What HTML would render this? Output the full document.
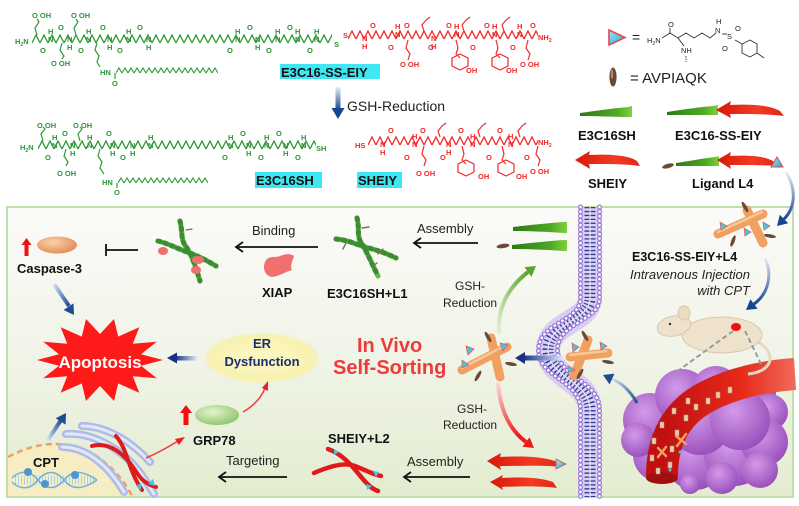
<!DOCTYPE html>
<html><head><meta charset="utf-8">
<style>
html,body{margin:0;padding:0;background:#fff;}
svg{display:block;}
text{font-family:"Liberation Sans",Arial,sans-serif;}
.g{fill:#2a9634;font-size:7.5px;font-weight:bold;}
.r{fill:#f02828;font-size:7.5px;font-weight:bold;}
.k{fill:#222;font-size:7.5px;}
.lb{font-weight:bold;font-size:13px;fill:#111;}
.t{font-size:13px;fill:#222;}
</style></head><body>
<svg width="799" height="506" viewBox="0 0 799 506" xmlns="http://www.w3.org/2000/svg">
<defs>
<pattern id="zg" width="8" height="10" patternUnits="userSpaceOnUse"><polyline points="0,9 4,1 8,9" fill="none" stroke="#2f9a36" stroke-width="1.3"/></pattern>
<pattern id="zr" width="8" height="10" patternUnits="userSpaceOnUse"><polyline points="0,9 4,1 8,9" fill="none" stroke="#f22a2a" stroke-width="1.3"/></pattern>
<pattern id="zs" width="6" height="7" patternUnits="userSpaceOnUse"><polyline points="0,6 3,1 6,6" fill="none" stroke="#2f9a36" stroke-width="1.1"/></pattern>
<linearGradient id="panel" x1="0" y1="0" x2="0" y2="1"><stop offset="0" stop-color="#fbfbf9"/><stop offset="0.5" stop-color="#f1f4e8"/><stop offset="1" stop-color="#e3ecd0"/></linearGradient>
<linearGradient id="gDown" x1="0" y1="0" x2="0" y2="1"><stop offset="0" stop-color="#e6eef8"/><stop offset="1" stop-color="#17468e"/></linearGradient>
<linearGradient id="gRib" x1="0" y1="0" x2="1" y2="0"><stop offset="0" stop-color="#2c7a18"/><stop offset="0.7" stop-color="#4fa824"/><stop offset="1" stop-color="#7ed23a"/></linearGradient>
<linearGradient id="rRib" x1="0" y1="0" x2="1" y2="0"><stop offset="0" stop-color="#d81808"/><stop offset="0.6" stop-color="#f43a22"/><stop offset="1" stop-color="#e02818"/></linearGradient>
<radialGradient id="casp" cx="0.4" cy="0.35" r="0.7"><stop offset="0" stop-color="#fbd2ac"/><stop offset="1" stop-color="#e08a52"/></radialGradient>
<radialGradient id="grp" cx="0.4" cy="0.35" r="0.7"><stop offset="0" stop-color="#e2f4cc"/><stop offset="1" stop-color="#8cc46a"/></radialGradient>
<radialGradient id="erg" cx="0.5" cy="0.5" r="0.55"><stop offset="0" stop-color="#fbf8c8"/><stop offset="0.8" stop-color="#f8f2b0"/><stop offset="1" stop-color="#f4f0c8" stop-opacity="0.6"/></radialGradient>
<radialGradient id="tum" cx="0.4" cy="0.35" r="0.65"><stop offset="0" stop-color="#d49aea"/><stop offset="1" stop-color="#9a52bc"/></radialGradient>
<linearGradient id="vess" x1="0" y1="0" x2="1" y2="0"><stop offset="0" stop-color="#c01010"/><stop offset="0.6" stop-color="#e62a1a"/><stop offset="1" stop-color="#f06a5a"/></linearGradient>
<linearGradient id="bl1" x1="1" y1="0" x2="0" y2="0"><stop offset="0" stop-color="#dfe8f6"/><stop offset="1" stop-color="#1a2f86"/></linearGradient>
<linearGradient id="bdiag" x1="0" y1="0" x2="1" y2="1"><stop offset="0" stop-color="#cfe0f4"/><stop offset="1" stop-color="#1d4c94"/></linearGradient>
<linearGradient id="bup" x1="0" y1="1" x2="1" y2="0"><stop offset="0" stop-color="#cfe0f4"/><stop offset="1" stop-color="#1d4c94"/></linearGradient>
<linearGradient id="grA" x1="0" y1="1" x2="1" y2="0"><stop offset="0" stop-color="#e4f0d4"/><stop offset="1" stop-color="#5aa42e"/></linearGradient>
<linearGradient id="rdA" x1="0" y1="0" x2="0.5" y2="1"><stop offset="0" stop-color="#fbd6d6"/><stop offset="1" stop-color="#f01818"/></linearGradient>
<linearGradient id="tri" x1="0" y1="0" x2="1" y2="1"><stop offset="0" stop-color="#9ee8f8"/><stop offset="1" stop-color="#1aa8d8"/></linearGradient>
</defs>

<!-- ============ TOP CHEMISTRY ============ -->
<g transform="translate(32,34)"><rect width="300" height="10" fill="url(#zg)"/></g>
<g transform="translate(116,67)"><rect width="102" height="7" fill="url(#zs)"/></g>
<g stroke="#2f9a36" stroke-width="1.2" fill="none">
<polyline points="37,35 35,28 39,22 37,19"/>
<polyline points="76,35 74,28 78,22 76,19"/>
<polyline points="62,43 60,50 64,56 62,59"/>
<polyline points="97,43 95,50 99,56 97,62 100,67"/>
<line x1="115" y1="73" x2="115" y2="79"/>
</g>
<text class="g" x="15" y="44">H<tspan font-size="5" dy="2">2</tspan><tspan dy="-2">N</tspan></text>
<text class="g" x="32" y="18">O OH</text>
<text class="g" x="71" y="18">O OH</text>
<text class="g" x="51" y="66">O OH</text>
<text class="g" x="40" y="53">O</text>
<text class="g" x="48" y="34">H</text><text class="g" x="48" y="42">N</text>
<text class="g" x="58" y="30">O</text>
<text class="g" x="67" y="42">N</text><text class="g" x="67" y="50">H</text>
<text class="g" x="78" y="53">O</text>
<text class="g" x="86" y="34">H</text><text class="g" x="86" y="42">N</text>
<text class="g" x="100" y="30">O</text>
<text class="g" x="107" y="42">N</text><text class="g" x="107" y="50">H</text>
<text class="g" x="117" y="53">O</text>
<text class="g" x="126" y="34">H</text><text class="g" x="126" y="42">N</text>
<text class="g" x="137" y="30">O</text>
<text class="g" x="146" y="42">N</text><text class="g" x="146" y="50">H</text>
<text class="g" x="100" y="75">HN</text>
<text class="g" x="112" y="86">O</text>
<text class="g" x="227" y="53">O</text>
<text class="g" x="235" y="34">H</text><text class="g" x="235" y="42">N</text>
<text class="g" x="247" y="30">O</text>
<text class="g" x="255" y="42">N</text><text class="g" x="255" y="50">H</text>
<text class="g" x="266" y="53">O</text>
<text class="g" x="275" y="34">H</text><text class="g" x="275" y="42">N</text>
<text class="g" x="287" y="30">O</text>
<text class="g" x="295" y="34">H</text><text class="g" x="295" y="42">N</text>
<text class="g" x="307" y="53">O</text>
<text class="g" x="314" y="34">H</text><text class="g" x="314" y="42">N</text>
<text class="g" x="334" y="47" font-size="8">S</text>
<g transform="translate(348,30)"><rect width="190" height="10" fill="url(#zr)"/></g>
<g stroke="#f22a2a" stroke-width="1.2" fill="none">
<polyline points="408,40 406,48 410,54 408,60"/>
<polyline points="424,31 422,25 426,20 430,17"/>
<polyline points="456,40 458,48 456,54 460,58"/>
<polygon points="452,58 460,54 468,58 468,66 460,70 452,66"/>
<polyline points="464,31 462,25 466,20 470,17"/>
<polyline points="496,40 498,48 496,54 500,58"/>
<polygon points="492,58 500,54 508,58 508,66 500,70 492,66"/>
<polyline points="504,31 502,25 506,20 510,17"/>
<polyline points="528,40 526,48 530,54 528,60"/>
</g>
<text class="r" x="343" y="38" font-size="8">S</text>
<text class="r" x="362" y="41">N</text><text class="r" x="362" y="49">H</text>
<text class="r" x="370" y="28">O</text>
<text class="r" x="388" y="50">O</text>
<text class="r" x="395" y="29">H</text><text class="r" x="395" y="37">N</text>
<text class="r" x="404" y="28">O</text>
<text class="r" x="431" y="41">N</text><text class="r" x="431" y="49">H</text>
<text class="r" x="428" y="50">O</text>
<text class="r" x="446" y="28">O</text>
<text class="r" x="454" y="29">H</text><text class="r" x="454" y="37">N</text>
<text class="r" x="470" y="50">O</text>
<text class="r" x="484" y="28">O</text>
<text class="r" x="492" y="29">H</text><text class="r" x="492" y="37">N</text>
<text class="r" x="510" y="50">O</text>
<text class="r" x="517" y="29">H</text><text class="r" x="517" y="37">N</text>
<text class="r" x="530" y="28">O</text>
<text class="r" x="538" y="40">NH<tspan font-size="5" dy="2">2</tspan></text>
<text class="r" x="400" y="67">O OH</text>
<text class="r" x="466" y="73">OH</text>
<text class="r" x="506" y="73">OH</text>
<text class="r" x="520" y="67">O OH</text>
<rect x="280" y="64" width="100" height="15" fill="#3de8f2"/>
<text class="lb" x="281" y="77">E3C16-SS-EIY</text>
<rect x="335.5" y="87" width="5" height="23" fill="url(#gDown)"/>
<polygon points="331.5,108 344.5,108 338,119" fill="#17468e"/>
<text x="347" y="111" style="font-size:14px;fill:#222">GSH-Reduction</text>

<g transform="translate(38,140)"><rect width="278" height="10" fill="url(#zg)"/></g>
<g transform="translate(118,177)"><rect width="90" height="7" fill="url(#zs)"/></g>
<g stroke="#2f9a36" stroke-width="1.2" fill="none">
<polyline points="43,141 41,134 45,129 43,127"/>
<polyline points="80,141 78,134 82,129 80,127"/>
<polyline points="66,149 64,156 68,162 66,166"/>
<polyline points="100,149 98,156 102,162 100,168 104,174"/>
<line x1="117" y1="183" x2="117" y2="188"/>
</g>
<text class="g" x="20" y="150">H<tspan font-size="5" dy="2">2</tspan><tspan dy="-2">N</tspan></text>
<text class="g" x="37" y="128">O OH</text>
<text class="g" x="73" y="128">O OH</text>
<text class="g" x="57" y="176">O OH</text>
<text class="g" x="45" y="160">O</text>
<text class="g" x="52" y="140">H</text><text class="g" x="52" y="148">N</text>
<text class="g" x="62" y="136">O</text>
<text class="g" x="70" y="148">N</text><text class="g" x="70" y="156">H</text>
<text class="g" x="87" y="140">H</text><text class="g" x="87" y="148">N</text>
<text class="g" x="106" y="136">O</text>
<text class="g" x="110" y="148">N</text><text class="g" x="110" y="156">H</text>
<text class="g" x="120" y="160">O</text>
<text class="g" x="130" y="148">N</text><text class="g" x="130" y="156">H</text>
<text class="g" x="148" y="140">H</text><text class="g" x="148" y="148">N</text>
<text class="g" x="102" y="185">HN</text>
<text class="g" x="114" y="195">O</text>
<text class="g" x="222" y="160">O</text>
<text class="g" x="228" y="140">H</text><text class="g" x="228" y="148">N</text>
<text class="g" x="240" y="136">O</text>
<text class="g" x="246" y="148">N</text><text class="g" x="246" y="156">H</text>
<text class="g" x="258" y="160">O</text>
<text class="g" x="264" y="140">H</text><text class="g" x="264" y="148">N</text>
<text class="g" x="276" y="136">O</text>
<text class="g" x="283" y="148">N</text><text class="g" x="283" y="156">H</text>
<text class="g" x="295" y="160">O</text>
<text class="g" x="301" y="140">H</text><text class="g" x="301" y="148">N</text>
<text class="g" x="316" y="151">SH</text>
<g transform="translate(368,136)"><rect width="170" height="10" fill="url(#zr)"/></g>
<g stroke="#f22a2a" stroke-width="1.2" fill="none">
<polyline points="424,146 422,154 426,160 424,166"/>
<polyline points="440,137 438,131 442,126 446,123"/>
<polyline points="462,146 464,154 462,160 466,164"/>
<polygon points="458,164 466,160 474,164 474,172 466,176 458,172"/>
<polyline points="480,137 478,131 482,126 486,123"/>
<polyline points="502,146 504,154 502,160 506,164"/>
<polygon points="498,164 506,160 514,164 514,172 506,176 498,172"/>
<polyline points="520,137 518,131 522,126 526,123"/>
<polyline points="538,146 536,154 540,160 538,166"/>
</g>
<text class="r" x="355" y="148">HS</text>
<text class="r" x="380" y="147">N</text><text class="r" x="380" y="155">H</text>
<text class="r" x="388" y="133">O</text>
<text class="r" x="404" y="160">O</text>
<text class="r" x="412" y="139">H</text><text class="r" x="412" y="147">N</text>
<text class="r" x="420" y="133">O</text>
<text class="r" x="446" y="147">N</text><text class="r" x="446" y="155">H</text>
<text class="r" x="440" y="160">O</text>
<text class="r" x="458" y="133">O</text>
<text class="r" x="470" y="139">H</text><text class="r" x="470" y="147">N</text>
<text class="r" x="486" y="160">O</text>
<text class="r" x="497" y="133">O</text>
<text class="r" x="508" y="139">H</text><text class="r" x="508" y="147">N</text>
<text class="r" x="524" y="160">O</text>
<text class="r" x="538" y="145">NH<tspan font-size="5" dy="2">2</tspan></text>
<text class="r" x="416" y="176">O OH</text>
<text class="r" x="478" y="179">OH</text>
<text class="r" x="516" y="179">OH</text>
<text class="r" x="530" y="174">O OH</text>
<rect x="255" y="172" width="67" height="16" fill="#3de8f2"/>
<text class="lb" x="256" y="185">E3C16SH</text>
<rect x="357" y="172" width="45" height="16" fill="#3de8f2"/>
<text class="lb" x="358" y="185">SHEIY</text>

<!-- ============ LEGEND ============ -->
<polygon points="609,30 625,37.5 609,45" fill="url(#tri)" stroke="#e84848" stroke-width="1.6"/>
<text x="632" y="42" style="font-size:14px;fill:#222">=</text>
<text class="k" x="647" y="43">H<tspan font-size="5" dy="2">2</tspan><tspan dy="-2">N</tspan></text>
<g stroke="#333" stroke-width="0.9" fill="none">
<polyline points="662,38 670,33 678,38 686,33 694,38 702,33 710,38 716,33"/>
<line x1="670" y1="33" x2="670" y2="28"/>
<line x1="678" y1="38" x2="684" y2="46"/>
<line x1="686" y1="56" x2="686" y2="62" stroke-dasharray="1.5 1"/>
<line x1="722" y1="34" x2="727" y2="34"/>
<polygon points="742,44 750,40 757,44 757,53 750,57 742,53"/>
<line x1="735" y1="40" x2="742" y2="44"/>
<line x1="757" y1="53" x2="764" y2="58"/>
</g>
<text class="k" x="668" y="27">O</text>
<text class="k" x="681" y="53">NH</text>
<text class="k" x="716" y="24">H</text>
<text class="k" x="715" y="33">N</text>
<text class="k" x="727" y="39" font-size="8">S</text>
<text class="k" x="735" y="31">O</text>
<text class="k" x="722" y="51">O</text>
<ellipse cx="613" cy="77" rx="3.6" ry="9.5" fill="#6a4a36"/>
<ellipse cx="612" cy="74" rx="1.2" ry="5" fill="#b08a6a"/>
<text x="630" y="83" style="font-size:15px;fill:#222">= AVPIAQK</text>
<path d="M580,113 C595,111 615,108 628,107 L632,106 L632,117 L628,117 C615,117 595,116 580,116 Z" fill="url(#gRib)"/>
<path d="M667,112 C680,110 700,107 713,106 L718,105 L718,115 L713,115 C700,115 680,115 667,115 Z" fill="url(#gRib)"/>
<path d="M716,110 L731,101 L730,105 C750,104 770,105 780,111 L784,116 C770,114 750,114 730,114 L731,118 Z" fill="url(#rRib)"/>
<path d="M575,160 L590,151 L589,155 C608,154 628,155 637,161 L640,166 C628,164 608,164 589,164 L590,169 Z" fill="url(#rRib)"/>
<path d="M676,163 C690,161 705,158 715,157 L719,156 L719,166 L715,166 C705,166 690,166 676,166 Z" fill="url(#gRib)"/>
<path d="M717,160 L731,152 L730,156 C748,155 765,156 773,161 L776,166 C765,165 748,165 730,165 L731,169 Z" fill="url(#rRib)"/>
<ellipse cx="668" cy="166" rx="6" ry="2.2" transform="rotate(-15 668 166)" fill="#6a4a36"/>
<polygon points="777,157 783,167 771,167" fill="url(#tri)" stroke="#e84848" stroke-width="1"/>
<text class="lb" x="578" y="140">E3C16SH</text>
<text class="lb" x="675" y="140">E3C16-SS-EIY</text>
<text class="lb" x="588" y="188">SHEIY</text>
<text class="lb" x="692" y="188">Ligand L4</text>

<!-- ============ PANEL ============ -->
<rect x="7" y="207" width="786" height="290" fill="url(#panel)" stroke="#bfe0ad" stroke-width="2"/>

<path d="M8,457 Q55,432 95,455 Q120,472 132,496 L8,496 Z" fill="#f6edc2"/>
<path d="M8,457 Q55,432 95,455 Q120,472 132,496" fill="none" stroke="#e8a070" stroke-width="2.5" stroke-dasharray="6 4"/>
<text class="lb" x="33" y="467">CPT</text>
<g fill="none" stroke-width="1.5">
<line x1="15" y1="480" x2="95" y2="480" stroke="#a8d4f0" stroke-width="9" stroke-dasharray="1 2"/>
<path d="M12,478 C20,470 30,470 38,480 C46,490 56,490 64,480 C72,470 82,470 97,480" stroke="#6eb2e0"/>
<path d="M12,482 C20,490 30,490 38,480 C46,470 56,470 64,480 C72,490 82,490 97,480" stroke="#6eb2e0"/>
</g>
<circle cx="28" cy="472" r="4" fill="#4f96cc"/>
<circle cx="45" cy="484" r="4" fill="#4f96cc"/>
<circle cx="75" cy="475" r="4" fill="#4f96cc"/>
<g fill="none" stroke-linecap="round">
<path d="M82,426 C105,426 130,440 150,462" stroke="#aebbe8" stroke-width="8"/>
<path d="M82,426 C105,426 130,440 150,462" stroke="#e2e8f8" stroke-width="3"/>
<path d="M66,434 C92,432 120,448 138,470 C146,480 150,488 154,494" stroke="#aebbe8" stroke-width="8"/>
<path d="M66,434 C92,432 120,448 138,470 C146,480 150,488 154,494" stroke="#e2e8f8" stroke-width="3"/>
<path d="M62,447 C86,447 108,465 124,492" stroke="#aebbe8" stroke-width="8"/>
<path d="M62,447 C86,447 108,465 124,492" stroke="#e2e8f8" stroke-width="3"/>
<path d="M92,446 C110,441 125,455 135,470 C140,478 145,484 156,487" stroke="#e01a1a" stroke-width="4"/>
<path d="M116,436 C128,450 128,470 142,490" stroke="#e01a1a" stroke-width="4"/>
</g>
<polygon points="148,484 153,479 155,486" fill="#3ec8e8"/>
<polygon points="136,486 141,483 141,490" fill="#3ec8e8"/>
<path d="M48,440 L61,420" stroke="url(#bup)" stroke-width="4" fill="none"/>
<polygon points="66,413 65.6,424.6 55.6,418.2" fill="#1d4c94"/>
<path d="M54,284 L69,306" stroke="url(#bdiag)" stroke-width="4" fill="none"/>
<polygon points="74,315 73.5,303.4 63.5,310" fill="#1d4c94"/>
<polygon fill="#ff1a1a" points="163,360 141,365.8 156.8,378.2 132.8,376.2 139.3,392.8 118.2,383.4 114,401 100,386 86,401 81.8,383.4 60.7,392.8 67.2,376.2 43.2,378.2 59,365.8 37,360 59,354.2 43.2,341.8 67.2,343.8 60.7,327.2 81.8,336.6 86,319 100,334 114,319 118.2,336.6 139.3,327.2 132.8,343.8 156.8,341.8 141,354.2"/>
<text x="100" y="368" text-anchor="middle" style="font-weight:bold;font-size:17px;fill:#fff">Apoptosis</text>
<ellipse cx="262" cy="358" rx="57" ry="25" fill="url(#erg)"/>
<text x="262" y="348" text-anchor="middle" style="font-weight:bold;font-size:13px;fill:#1e2d6e">ER</text>
<text x="262" y="366" text-anchor="middle" style="font-weight:bold;font-size:13px;fill:#1e2d6e">Dysfunction</text>
<rect x="175" y="356" width="22" height="4.5" fill="url(#bl1)"/>
<polygon points="167,358 177,352.5 177,363.5" fill="#1a2f86"/>
<path d="M186,405 L192,413 L188.5,413 L188.5,425 L183.5,425 L183.5,413 L180,413 Z" fill="#f01010"/>
<ellipse cx="217" cy="415" rx="22" ry="10" fill="url(#grp)"/>
<text class="lb" x="193" y="445">GRP78</text>
<path d="M243,412 C255,405 262,396 265,388" stroke="#f03a3a" stroke-width="1.5" fill="none"/>
<polygon points="268,381 268,391 262,388" fill="#f02020"/>
<path d="M146,458 C160,452 170,446 178,441" stroke="#f03a3a" stroke-width="1.5" fill="none"/>
<polygon points="185,437 179,445 175,439" fill="#f02020"/>
<path d="M26.5,238 L31.5,245 L28.5,245 L28.5,256 L24.5,256 L24.5,245 L21.5,245 Z" fill="#f01010"/>
<ellipse cx="57" cy="245" rx="20" ry="8.5" fill="url(#casp)"/>
<text class="lb" x="17" y="273">Caspase-3</text>
<line x1="106" y1="250" x2="138" y2="250" stroke="#111" stroke-width="1.8"/>
<line x1="106" y1="244" x2="106" y2="256" stroke="#111" stroke-width="1.8"/>
<g fill="none" stroke-linecap="round">
<path d="M180,221 C183,232 180,240 187,248 C193,258 196,268 200,281" stroke="#5cb848" stroke-width="5"/>
<path d="M158,241 C170,244 180,250 190,253 C200,257 208,261 216,266" stroke="#5cb848" stroke-width="5"/>
<path d="M180,221 C183,232 180,240 187,248 C193,258 196,268 200,281" stroke="#3c8c30" stroke-width="5" stroke-dasharray="2 5"/>
<path d="M158,241 C170,244 180,250 190,253 C200,257 208,261 216,266" stroke="#3c8c30" stroke-width="5" stroke-dasharray="2 5"/>
<line x1="186" y1="230" x2="192" y2="229" stroke="#8a6a5a" stroke-width="1.3"/>
</g>
<ellipse cx="163" cy="251" rx="5" ry="4" fill="#f07070"/>
<ellipse cx="198" cy="260" rx="6" ry="4" fill="#f07070"/>
<ellipse cx="196" cy="270" rx="5" ry="4" fill="#f07070"/>
<text class="t" x="252" y="235">Binding</text>
<line x1="236" y1="247" x2="318" y2="247" stroke="#111" stroke-width="1.8"/>
<polyline points="243,242 236,247 243,252" fill="none" stroke="#111" stroke-width="1.8"/>
<path d="M265,262 C268,255 276,258 280,256 C285,254 290,253 294,256 C292,262 290,266 292,270 C285,272 280,276 272,277 C266,276 262,270 265,262 Z" fill="#f07070"/>
<text class="lb" x="262" y="297">XIAP</text>
<g fill="none" stroke-linecap="round">
<path d="M357,218 C360,228 356,236 362,244 C368,254 372,264 378,276" stroke="#5cb848" stroke-width="5"/>
<path d="M336,239 C348,240 355,244 365,247 C377,250 388,254 396,258" stroke="#5cb848" stroke-width="5"/>
<path d="M357,218 C360,228 356,236 362,244 C368,254 372,264 378,276" stroke="#3c8c30" stroke-width="5" stroke-dasharray="2 5"/>
<path d="M336,239 C348,240 355,244 365,247 C377,250 388,254 396,258" stroke="#3c8c30" stroke-width="5" stroke-dasharray="2 5"/>
<g stroke="#8a6a5a" stroke-width="1.4">
<line x1="362" y1="228" x2="369" y2="227"/><line x1="346" y1="243" x2="343" y2="249"/>
<line x1="378" y1="254" x2="383" y2="249"/><line x1="373" y1="266" x2="377" y2="263"/>
</g>
</g>
<text class="lb" x="327" y="298">E3C16SH+L1</text>
<text class="t" x="417" y="233">Assembly</text>
<line x1="414" y1="243" x2="478" y2="243" stroke="#111" stroke-width="1.8"/>
<polyline points="421,238 414,243 421,248" fill="none" stroke="#111" stroke-width="1.8"/>
<path d="M513,227 C530,225 550,223 564,222 L567,222 L567,233 L564,233 C550,232 530,231 513,231 Z" fill="url(#gRib)"/>
<path d="M512,245 C530,243 550,241 564,240 L567,240 L567,251 L564,251 C550,250 530,249 512,249 Z" fill="url(#gRib)"/>
<ellipse cx="503" cy="246" rx="6.5" ry="2.2" transform="rotate(-8 503 246)" fill="#6a4a36"/>
<text x="455" y="290" style="font-size:12px;fill:#222">GSH-</text>
<text x="443" y="307" style="font-size:12px;fill:#222">Reduction</text>
<path d="M499,334 C497,306 510,286 528,272" stroke="url(#grA)" stroke-width="4" fill="none"/>
<polygon points="536,266 531.5,276.9 524.5,267.1" fill="#5aa42e"/>
<text x="357" y="352" style="font-weight:bold;font-size:20px;fill:#f03a3a">In Vivo</text>
<text x="333" y="374" style="font-weight:bold;font-size:20px;fill:#f03a3a">Self-Sorting</text>

<g fill="none">
<path d="M590,207 L590,298 C590,322 548,322 548,350 C548,378 590,380 590,410 L590,497" stroke="#d8cdf2" stroke-width="24"/>
<path d="M590,207 L590,298 C590,322 548,322 548,350 C548,378 590,380 590,410 L590,497" stroke="#2c3c90" stroke-width="11" stroke-dasharray="1.3 2.6"/>
<path d="M590,207 L590,298 C590,322 548,322 548,350 C548,378 590,380 590,410 L590,497" stroke="#e8e2f6" stroke-width="1.2"/>
<path transform="translate(-9.5,0)" d="M590,207 L590,298 C590,322 548,322 548,350 C548,378 590,380 590,410 L590,497" stroke="#9a7ad8" stroke-width="5" stroke-linecap="round" stroke-dasharray="0.1 4.4"/>
<path transform="translate(-9.5,0)" d="M590,207 L590,298 C590,322 548,322 548,350 C548,378 590,380 590,410 L590,497" stroke="#fff" stroke-width="2.6" stroke-linecap="round" stroke-dasharray="0.1 4.4"/>
<path transform="translate(9.5,0)" d="M590,207 L590,298 C590,322 548,322 548,350 C548,378 590,380 590,410 L590,497" stroke="#9a7ad8" stroke-width="5" stroke-linecap="round" stroke-dasharray="0.1 4.4"/>
<path transform="translate(9.5,0)" d="M590,207 L590,298 C590,322 548,322 548,350 C548,378 590,380 590,410 L590,497" stroke="#fff" stroke-width="2.6" stroke-linecap="round" stroke-dasharray="0.1 4.4"/>
</g>

<g stroke-linecap="round" fill="none">
<path d="M462,370 L507,347" stroke="#f0a060" stroke-width="9"/>
<path d="M491,338 L500,377" stroke="#f0a060" stroke-width="9"/>
<path d="M462,368 L506,345" stroke="#f8c898" stroke-width="2.5"/>
<path d="M574,376 L588,340" stroke="#f0a060" stroke-width="9"/>
<path d="M570,357 L608,353" stroke="#f0a060" stroke-width="9"/>
<path d="M570,355 L606,351" stroke="#f8c898" stroke-width="2.5"/>
<path d="M718,234 L763,214" stroke="#f0a060" stroke-width="9"/>
<path d="M747,210 L763,243" stroke="#f0a060" stroke-width="9"/>
<path d="M718,232 L762,212" stroke="#f8c898" stroke-width="2.5"/>
</g>
<g fill="#6a4a36">
<ellipse cx="488" cy="337" rx="6" ry="1.8" transform="rotate(60 488 337)"/>
<ellipse cx="511" cy="364" rx="6" ry="1.8" transform="rotate(10 511 364)"/>
<ellipse cx="478" cy="376" rx="6" ry="1.8" transform="rotate(-60 478 376)"/>
<ellipse cx="585" cy="336" rx="6" ry="1.8" transform="rotate(60 585 336)"/>
<ellipse cx="608" cy="362" rx="6" ry="1.8" transform="rotate(10 608 362)"/>
<ellipse cx="580" cy="374" rx="6" ry="1.8" transform="rotate(-60 580 374)"/>
<ellipse cx="745" cy="207" rx="6" ry="1.8" transform="rotate(60 745 207)"/>
<ellipse cx="770" cy="236" rx="6" ry="1.8" transform="rotate(10 770 236)"/>
<ellipse cx="733" cy="241" rx="6" ry="1.8" transform="rotate(-70 733 241)"/>
</g>
<g fill="#40c8e8" stroke="#e85050" stroke-width="0.7">
<polygon points="466,346 474,349 468,355"/><polygon points="500,343 508,345 503,351"/><polygon points="462,360 469,365 462,368"/>
<polygon points="572,343 579,347 573,352"/><polygon points="600,342 607,346 601,350"/><polygon points="568,366 575,370 568,373"/>
<polygon points="720,222 727,226 721,230"/><polygon points="744,228 751,232 745,236"/><polygon points="763,222 770,226 764,230"/>
</g>
<rect x="523" y="355.5" width="40" height="5" fill="url(#bl1)"/>
<polygon points="515,358 525,352 525,364" fill="#1a2f86"/>
<text x="457" y="413" style="font-size:12px;fill:#222">GSH-</text>
<text x="443" y="429" style="font-size:12px;fill:#222">Reduction</text>
<path d="M498,383 C500,410 510,430 526,442" stroke="url(#rdA)" stroke-width="4" fill="none"/>
<polygon points="534,448 522.4,446.8 529.6,437.2" fill="#f01818"/>
<path d="M487,461 L501,453 L500,457 C520,456 540,456 555,461 L561,467 C545,465 520,466 500,466 L501,470 Z" fill="url(#rRib)"/>
<path d="M490,482 L503,475 L502,478 C520,477 540,477 553,482 L557,488 C545,486 520,486 502,487 L503,490 Z" fill="url(#rRib)"/>
<polygon points="556,459 566,464 556,469" fill="url(#tri)" stroke="#e84848" stroke-width="0.8"/>
<text class="t" x="407" y="466">Assembly</text>
<line x1="404" y1="477" x2="470" y2="477" stroke="#111" stroke-width="1.8"/>
<polyline points="411,472 404,477 411,482" fill="none" stroke="#111" stroke-width="1.8"/>
<text class="lb" x="328" y="443">SHEIY+L2</text>
<g fill="none" stroke="#e01a1a" stroke-width="4.5" stroke-linecap="round">
<path d="M328,449 C345,455 355,470 362,478 C368,485 372,489 378,491"/>
<path d="M314,473 C330,466 345,462 355,466 C365,470 372,474 381,476"/>
</g>
<g fill="#40c8e8"><polygon points="373,471 379,472 376,477"/><polygon points="366,484 372,486 367,490"/><polygon points="334,449 339,452 334,455"/></g>
<text class="t" x="226" y="465">Targeting</text>
<line x1="219" y1="477" x2="287" y2="477" stroke="#111" stroke-width="1.8"/>
<polyline points="226,472 219,477 226,482" fill="none" stroke="#111" stroke-width="1.8"/>

<path d="M786,172 C797,190 795,208 784,219" stroke="url(#gDown)" stroke-width="3" fill="none"/>
<polygon points="777,226 788.2,223.2 779.8,214.8" fill="#17468e"/>
<text x="632" y="261" style="font-weight:bold;font-size:12.5px;fill:#111">E3C16-SS-EIY+L4</text>
<text x="750" y="279" text-anchor="end" style="font-style:italic;font-size:13px;fill:#222">Intravenous Injection</text>
<text x="750" y="295" text-anchor="end" style="font-style:italic;font-size:13px;fill:#222">with CPT</text>
<path d="M765,258 C773,275 768,294 754,304" stroke="url(#gDown)" stroke-width="3" fill="none"/>
<polygon points="746,310 757.6,308.8 750.4,299.2" fill="#17468e"/>

<g fill="url(#tum)">
<circle cx="650" cy="420" r="27"/><circle cx="682" cy="396" r="27"/><circle cx="716" cy="390" r="24"/>
<circle cx="750" cy="392" r="26"/><circle cx="770" cy="412" r="18"/><circle cx="660" cy="455" r="27"/>
<circle cx="695" cy="460" r="30"/><circle cx="735" cy="455" r="31"/><circle cx="764" cy="442" r="24"/>
<circle cx="700" cy="425" r="30"/><circle cx="740" cy="420" r="30"/><circle cx="638" cy="440" r="17"/>
<circle cx="722" cy="478" r="16"/><circle cx="760" cy="470" r="18"/><circle cx="690" cy="484" r="10"/>
</g>
<path d="M795,374 C765,376 732,383 706,397 C676,413 662,440 662,476" stroke="url(#vess)" stroke-width="32" fill="none"/>
<ellipse cx="662" cy="478" rx="16" ry="6" fill="#a01010"/>
<g fill="#e6ceaa" stroke="#b89878" stroke-width="0.5">
<rect x="706" y="398" width="4" height="6"/><rect x="694" y="404" width="4" height="6"/><rect x="716" y="392" width="4" height="6"/>
<rect x="684" y="415" width="4" height="6"/><rect x="675" y="430" width="4" height="6"/><rect x="670" y="446" width="4" height="6"/>
<rect x="668" y="462" width="4" height="6"/><rect x="650" y="455" width="4" height="6"/><rect x="652" y="438" width="4" height="6"/>
<rect x="660" y="422" width="4" height="6"/><rect x="672" y="408" width="4" height="6"/><rect x="686" y="398" width="4" height="6"/>
<rect x="728" y="387" width="4" height="6"/><rect x="656" y="468" width="4" height="6"/>
</g>
<g stroke="#f0a060" stroke-width="2.5" stroke-linecap="round">
<line x1="676" y1="436" x2="686" y2="444"/><line x1="686" y1="434" x2="677" y2="446"/>
<line x1="658" y1="448" x2="666" y2="456"/><line x1="666" y1="447" x2="658" y2="457"/>
</g>
<circle cx="680" cy="452" r="1.5" fill="#40c8e8"/><circle cx="670" cy="470" r="1.5" fill="#40c8e8"/>
<path d="M758,342 C778,354 772,372 748,374" stroke="#e8d8c0" stroke-width="3" fill="none"/>
<ellipse cx="722" cy="335" rx="40" ry="18" fill="#efe2cc" stroke="#d8c8aa" stroke-width="1"/>
<ellipse cx="674" cy="326" rx="17" ry="10" transform="rotate(-12 674 326)" fill="#efe2cc" stroke="#d8c8aa" stroke-width="1"/>
<ellipse cx="684" cy="313" rx="6" ry="7" fill="#ecdcc2" stroke="#d8c8aa" stroke-width="1"/>
<circle cx="670" cy="324" r="1.2" fill="#333"/>
<ellipse cx="736" cy="327" rx="5" ry="4" fill="#f01010"/>
<g stroke="#999" stroke-width="2" stroke-dasharray="5 3">
<line x1="733" y1="331" x2="668" y2="378"/><line x1="745" y1="331" x2="763" y2="368"/>
</g>
<path d="M637,403 C630,390 620,382 612,379" stroke="url(#bdiag)" stroke-width="3" fill="none"/>
<polygon points="603,375 614.4,373.6 609.6,384.4" fill="#1d4c94"/>
</svg>
</body></html>
